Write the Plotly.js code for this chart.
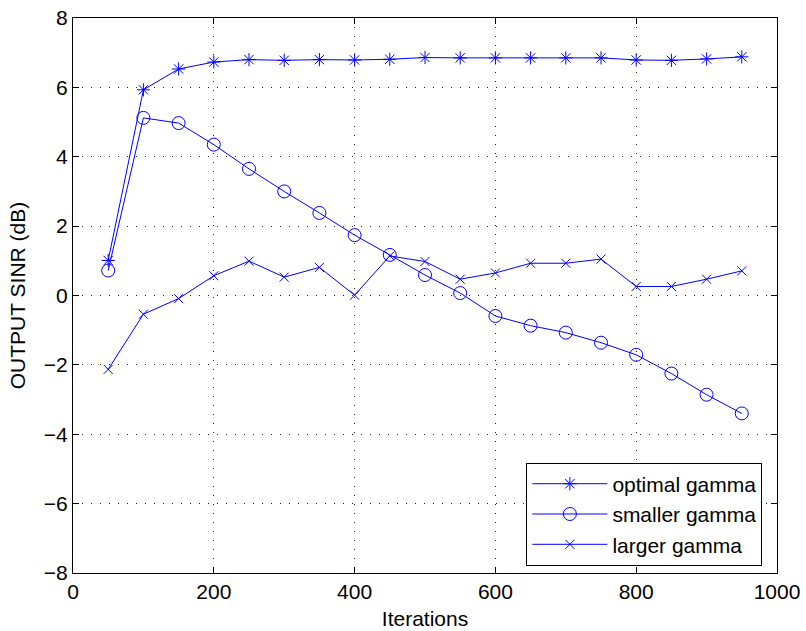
<!DOCTYPE html>
<html>
<head>
<meta charset="utf-8">
<script src="https://cdn.plot.ly/plotly-3.0.1.min.js"></script>
<style>html,body{margin:0;padding:0;background:#fff;}#chart{width:806px;height:631px;}</style>
</head>
<body>
<div id="chart"></div>
<script>
const iterations = [50,100,150,200,250,300,350,400,450,500,550,600,650,700,750,800,850,900,950];
const optimalGamma = [1.01,5.93,6.53,6.73,6.80,6.78,6.80,6.79,6.81,6.86,6.85,6.85,6.85,6.85,6.85,6.79,6.78,6.82,6.88];
const smallerGamma = [0.72,5.12,4.97,4.35,3.65,3.00,2.38,1.74,1.17,0.59,0.07,-0.59,-0.87,-1.07,-1.36,-1.71,-2.25,-2.86,-3.40];
const largerGamma = [-2.13,-0.54,-0.09,0.57,0.99,0.53,0.81,0.01,1.14,0.98,0.47,0.65,0.93,0.93,1.05,0.26,0.26,0.47,0.71];
const seriesNames = ['optimal gamma','smaller gamma','larger gamma'];
const xTicks = [0,200,400,600,800,1000];
const yTicks = [-8,-6,-4,-2,0,2,4,6,8];

const blue = '#0000ff';
function mk(y, name, symbol, size) {
  return {
    x: iterations, y: y, name: name, type: 'scatter', mode: 'lines+markers',
    line: {color: blue, width: 1},
    marker: {symbol: symbol, size: size, color: blue, line: {color: blue, width: 1}}
  };
}
const data = [
  mk(optimalGamma, seriesNames[0], 'asterisk-open', 11),
  mk(smallerGamma, seriesNames[1], 'circle-open', 13),
  mk(largerGamma, seriesNames[2], 'x-thin-open', 9)
];
const FONT = 'Liberation Sans, Arial, Helvetica, sans-serif';
const axisCommon = {
  showline: true, linecolor: '#000', linewidth: 1, mirror: 'ticks',
  ticks: 'inside', ticklen: 6, tickcolor: '#000', tickwidth: 1,
  showgrid: true, gridcolor: '#222', gridwidth: 1, griddash: '1px,8px',
  zeroline: false,
  tickfont: {family: FONT, size: 21, color: '#000'}
};
const layout = {
  width: 806, height: 631,
  margin: {l: 73, r: 29, t: 18, b: 58},
  paper_bgcolor: '#fff', plot_bgcolor: '#fff',
  font: {family: FONT, size: 21, color: '#000'},
  xaxis: Object.assign({}, axisCommon, {
    range: [0, 1000], tickvals: xTicks, ticktext: xTicks.map(String),
    title: {text: 'Iterations', font: {size: 21}, standoff: 9}
  }),
  yaxis: Object.assign({}, axisCommon, {
    range: [-8, 8], tickvals: yTicks,
    title: {text: 'OUTPUT SINR (dB)', font: {size: 21}, standoff: 12}
  }),
  showlegend: true,
  legend: {
    x: 0.644, y: 0.199, xanchor: 'left', yanchor: 'top',
    bgcolor: '#fff', bordercolor: '#000', borderwidth: 1,
    font: {size: 21, color: '#000'}, itemwidth: 75, tracegroupgap: 0
  }
};
Plotly.newPlot('chart', data, layout, {displayModeBar: false, staticPlot: true});
</script>
</body>
</html>
